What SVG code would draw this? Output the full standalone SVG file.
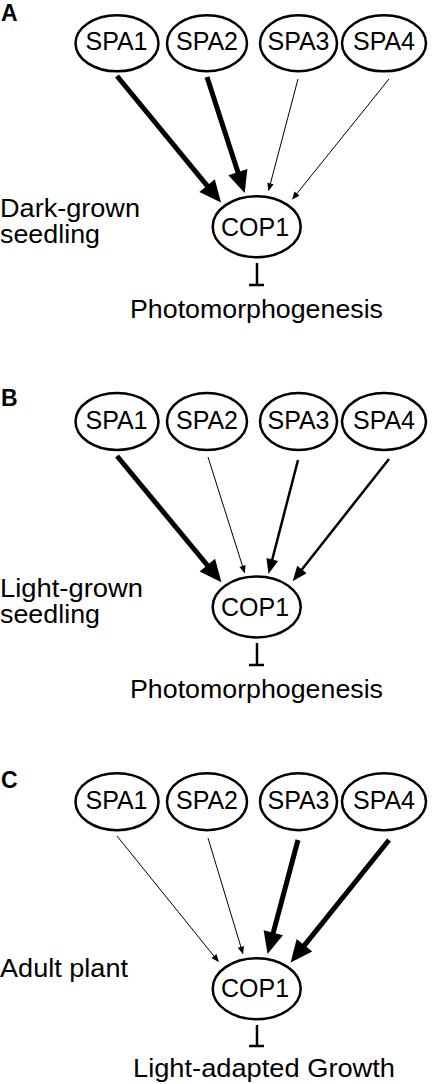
<svg xmlns="http://www.w3.org/2000/svg" width="433" height="1084" viewBox="0 0 433 1084">
<style>
.bg{fill:#fff}
.node{fill:#fff;stroke:#000;stroke-width:2.5}
.nt{font-family:"Liberation Sans",Arial,sans-serif;font-size:25px;fill:#000;text-anchor:middle}
.lbl{font-family:"Liberation Sans",Arial,sans-serif;font-size:25px;fill:#000}
.pl{font-family:"Liberation Sans",Arial,sans-serif;font-size:23px;font-weight:bold;fill:#000}
.thick{stroke:#000;stroke-width:5;fill:none;marker-end:url(#hk)}
.med{stroke:#000;stroke-width:2.5;fill:none;marker-end:url(#hm)}
.thin{stroke:#000;stroke-width:1;fill:none;marker-end:url(#ht)}
.inh{stroke:#000;stroke-width:2.5;fill:none}
</style>
<defs>
<marker id="hk" markerUnits="userSpaceOnUse" markerWidth="24" markerHeight="22" refX="1" refY="10" orient="auto" overflow="visible"><path d="M0,0 L22,10 L0,20 z" fill="#000"/></marker>
<marker id="hm" markerUnits="userSpaceOnUse" markerWidth="17" markerHeight="14" refX="1" refY="6" orient="auto" overflow="visible"><path d="M0,0 L15,6 L0,12 z" fill="#000"/></marker>
<marker id="ht" markerUnits="userSpaceOnUse" markerWidth="10" markerHeight="8" refX="0.5" refY="3.2" orient="auto" overflow="visible"><path d="M0,0 L8,3.2 L0,6.4 z" fill="#000"/></marker>
</defs>
<rect class="bg" x="0" y="0" width="433" height="1084"/>

<g id="connectors">
<!-- Panel A -->
<line class="thick" x1="117" y1="76" x2="207.7" y2="186.3"/>
<line class="thick" x1="207" y1="77" x2="238.2" y2="173.1"/>
<line class="thin" x1="298" y1="79" x2="270.3" y2="184"/>
<line class="thin" x1="389" y1="79" x2="296.7" y2="193.8"/>
<path class="inh" d="M257,263 V285 M249,285 H264"/>
<!-- Panel B -->
<line class="thick" x1="117" y1="456" x2="208" y2="566"/>
<line class="thin" x1="208" y1="457" x2="242.6" y2="566.4"/>
<line class="med" x1="298" y1="460" x2="272" y2="560.5"/>
<line class="med" x1="389" y1="459" x2="301.3" y2="570.2"/>
<path class="inh" d="M257,643 V665 M249,665 H264"/>
<!-- Panel C -->
<line class="thin" x1="117" y1="836" x2="214.3" y2="956.5"/>
<line class="thin" x1="208" y1="838" x2="241" y2="947.3"/>
<line class="thick" x1="298" y1="840" x2="273" y2="933.7"/>
<line class="thick" x1="389" y1="840" x2="303.8" y2="946.1"/>
<path class="inh" d="M257,1025 V1046 M249,1046 H264"/>
</g>

<!-- Panel A -->
<text class="pl" x="1" y="21">A</text>
<g id="A_SPA1"><ellipse class="node" cx="117" cy="43.3" rx="41.5" ry="28"/><text class="nt" x="116.5" y="50">SPA1</text></g>
<g id="A_SPA2"><ellipse class="node" cx="207" cy="43.3" rx="40" ry="28"/><text class="nt" x="207" y="50">SPA2</text></g>
<g id="A_SPA3"><ellipse class="node" cx="298.5" cy="43.3" rx="38.5" ry="28"/><text class="nt" x="298.5" y="50">SPA3</text></g>
<g id="A_SPA4"><ellipse class="node" cx="384" cy="43.3" rx="42" ry="28"/><text class="nt" x="384" y="50">SPA4</text></g>
<g id="A_COP1"><ellipse class="node" cx="256.7" cy="226.7" rx="44" ry="30.5"/><text class="nt" x="255" y="235.5">COP1</text></g>
<g id="A_label"><text class="lbl" x="0" y="216.7" textLength="140" lengthAdjust="spacingAndGlyphs">Dark-grown</text><text class="lbl" x="0" y="243" textLength="100" lengthAdjust="spacingAndGlyphs">seedling</text></g>
<g id="A_out"><text class="lbl" x="130" y="317.7" textLength="253" lengthAdjust="spacingAndGlyphs">Photomorphogenesis</text></g>

<!-- Panel B -->
<text class="pl" x="1" y="406">B</text>
<g id="B_SPA1"><ellipse class="node" cx="117" cy="421.5" rx="41.5" ry="28.5"/><text class="nt" x="116.5" y="428.5">SPA1</text></g>
<g id="B_SPA2"><ellipse class="node" cx="207" cy="421.5" rx="40" ry="28.5"/><text class="nt" x="207" y="428.5">SPA2</text></g>
<g id="B_SPA3"><ellipse class="node" cx="298.5" cy="421.5" rx="38.5" ry="28.5"/><text class="nt" x="298.5" y="428.5">SPA3</text></g>
<g id="B_SPA4"><ellipse class="node" cx="384" cy="421.5" rx="42" ry="28.5"/><text class="nt" x="384" y="428.5">SPA4</text></g>
<g id="B_COP1"><ellipse class="node" cx="256.7" cy="607" rx="44" ry="30.5"/><text class="nt" x="255" y="615.5">COP1</text></g>
<g id="B_label"><text class="lbl" x="0" y="596.7" textLength="143" lengthAdjust="spacingAndGlyphs">Light-grown</text><text class="lbl" x="0" y="623" textLength="100" lengthAdjust="spacingAndGlyphs">seedling</text></g>
<g id="B_out"><text class="lbl" x="130" y="697.7" textLength="253" lengthAdjust="spacingAndGlyphs">Photomorphogenesis</text></g>

<!-- Panel C -->
<text class="pl" x="1" y="788">C</text>
<g id="C_SPA1"><ellipse class="node" cx="117" cy="801.7" rx="41.5" ry="28.5"/><text class="nt" x="116.5" y="808.7">SPA1</text></g>
<g id="C_SPA2"><ellipse class="node" cx="207" cy="801.7" rx="40" ry="28.5"/><text class="nt" x="207" y="808.7">SPA2</text></g>
<g id="C_SPA3"><ellipse class="node" cx="298.5" cy="801.7" rx="38.5" ry="28.5"/><text class="nt" x="298.5" y="808.7">SPA3</text></g>
<g id="C_SPA4"><ellipse class="node" cx="384" cy="801.7" rx="42" ry="28.5"/><text class="nt" x="384" y="808.7">SPA4</text></g>
<g id="C_COP1"><ellipse class="node" cx="256.7" cy="988.7" rx="44" ry="30.5"/><text class="nt" x="255" y="997">COP1</text></g>
<g id="C_label"><text class="lbl" x="0" y="976.7" textLength="128" lengthAdjust="spacingAndGlyphs">Adult plant</text></g>
<g id="C_out"><text class="lbl" x="133" y="1076.7" textLength="262" lengthAdjust="spacingAndGlyphs">Light-adapted Growth</text></g>
</svg>
